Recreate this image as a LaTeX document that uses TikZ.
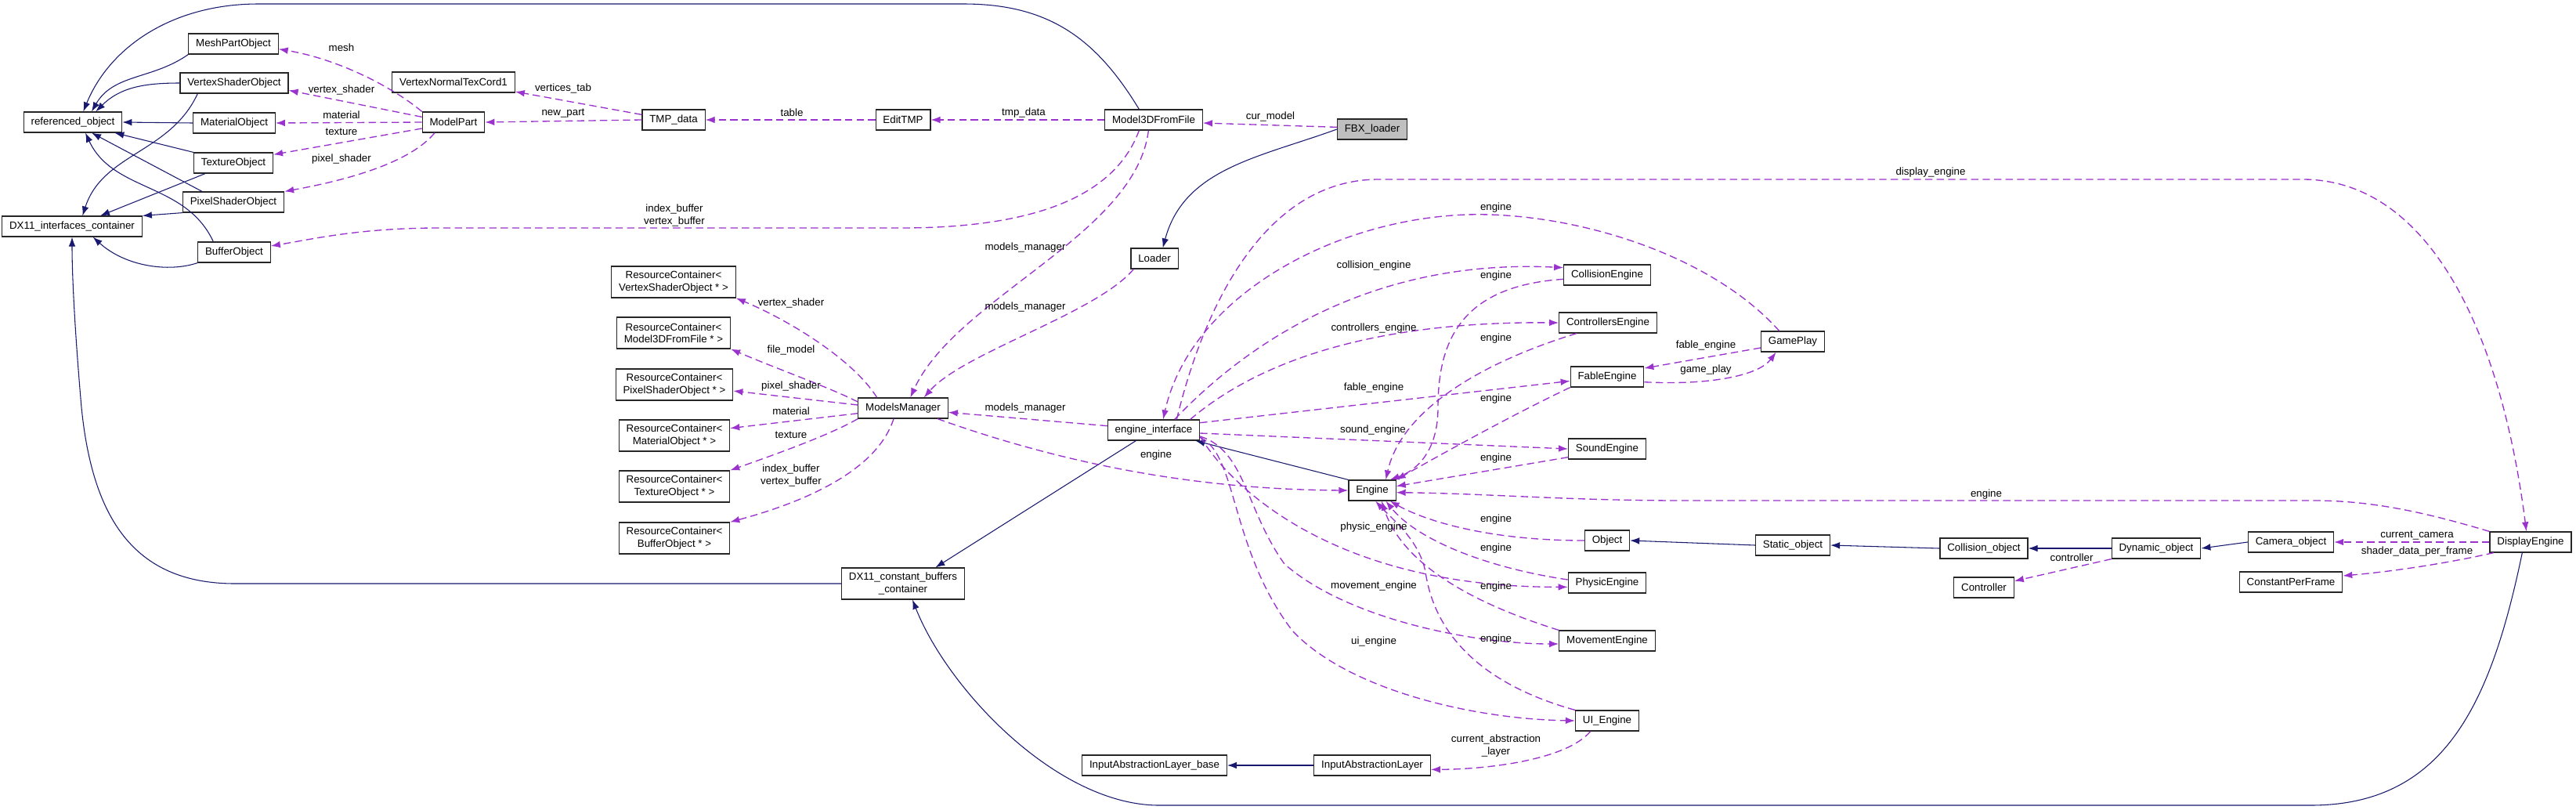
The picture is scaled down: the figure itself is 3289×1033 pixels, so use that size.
\documentclass[tikz,border=0pt]{standalone}
\usepackage{fontspec}
\setmainfont{Liberation Sans}
\usetikzlibrary{arrows.meta}
\definecolor{nuit}{HTML}{191970}
\definecolor{orchidee}{HTML}{9A32CD}

\begin{document}
\begin{tikzpicture}[x=0.75pt,y=-0.75pt,>={Latex[length=9pt,width=6.5pt]},
  classe/.style={draw=black!85,line width=0.9pt,fill=white,inner xsep=7pt,inner ysep=2pt,
    minimum height=19.5pt,align=center,font=\fontsize{10}{11.5}\selectfont},
  deuxlignes/.style={minimum height=30pt},
  herit/.style={->,draw=nuit,line width=0.8pt},
  usage/.style={->,draw=orchidee,line width=1pt,dash pattern=on 7pt off 4pt},
  etiq/.style={inner sep=0pt,align=center,font=\fontsize{10}{12}\selectfont}]

% Cadre
\fill[white] (0,0) rectangle (3289,1033);
\useasboundingbox (0,0) rectangle (3289,1033);

% Classes (colonne 1 et 2)
\node[classe] (ref) at (93,156) {referenced\_object};
\node[classe] (dxi) at (92,289) {DX11\_interfaces\_container};
\node[classe] (mesh) at (298,56) {MeshPartObject};
\node[classe] (vso) at (299,106) {VertexShaderObject};
\node[classe] (mato) at (299,157) {MaterialObject};
\node[classe] (texo) at (298,208) {TextureObject};
\node[classe] (pso) at (298,258) {PixelShaderObject};
\node[classe] (bufo) at (299,322) {BufferObject};

% Classes (colonnes 3 et 4)
\node[classe] (vntc) at (579,105) {VertexNormalTexCord1};
\node[classe] (mpart) at (579,156) {ModelPart};
\node[classe] (tmp) at (860,153) {TMP\_data};
\node[classe,deuxlignes] (rcvs) at (860,360) {ResourceContainer<\\ VertexShaderObject * >};
\node[classe,deuxlignes] (rcm3d) at (860,425) {ResourceContainer<\\ Model3DFromFile * >};
\node[classe,deuxlignes] (rcps) at (861,491) {ResourceContainer<\\ PixelShaderObject * >};
\node[classe,deuxlignes] (rcmat) at (861,556) {ResourceContainer<\\ MaterialObject * >};
\node[classe,deuxlignes] (rctex) at (861,621) {ResourceContainer<\\ TextureObject * >};
\node[classe,deuxlignes] (rcbuf) at (861,687) {ResourceContainer<\\ BufferObject * >};

% Classes (colonnes 5 a 7)
\node[classe] (edit) at (1153,153) {EditTMP};
\node[classe] (mmgr) at (1153,521) {ModelsManager};
\node[classe,deuxlignes] (dxcb) at (1153,745) {DX11\_constant\_buffers\\ \_container};
\node[classe] (m3d) at (1473,153) {Model3DFromFile};
\node[classe] (loader) at (1474,330) {Loader};
\node[classe] (eif) at (1473,549) {engine\_interface};
\node[classe] (ialb) at (1474,977) {InputAbstractionLayer\_base};
\node[classe,fill=black!25] (fbx) at (1752,165) {FBX\_loader};
\node[classe] (engine) at (1752,626) {Engine};
\node[classe] (ial) at (1752,977) {InputAbstractionLayer};

% Moteurs
\node[classe] (colle) at (2052,351) {CollisionEngine};
\node[classe] (ctrle) at (2053,412) {ControllersEngine};
\node[classe] (fable) at (2052,481) {FableEngine};
\node[classe] (sound) at (2052,573) {SoundEngine};
\node[classe] (obj) at (2052,690) {Object};
\node[classe] (phys) at (2052,744) {PhysicEngine};
\node[classe] (move) at (2052,818) {MovementEngine};
\node[classe] (uie) at (2052,920) {UI\_Engine};

% Partie droite
\node[classe] (gplay) at (2289,436) {GamePlay};
\node[classe] (stat) at (2289,696) {Static\_object};
\node[classe] (collo) at (2533,700) {Collision\_object};
\node[classe] (ctrl) at (2533,750) {Controller};
\node[classe] (dyn) at (2753,700) {Dynamic\_object};
\node[classe] (cam) at (2925,692) {Camera\_object};
\node[classe] (cpf) at (2925,743) {ConstantPerFrame};
\node[classe] (disp) at (3231,692) {DisplayEngine};

% Heritage (traits pleins)
\draw[herit] (mesh.south west) to[out=215,in=60] ([xshift=18]ref.north);
\draw[herit] (vso.west) to[out=180,in=45] ([xshift=22]ref.north);
\draw[herit] (mato.west) -- (ref.east);
\draw[herit] (texo.north west) -- ([xshift=40]ref.south);
\draw[herit] ([xshift=-30]pso.north) -- ([xshift=18]ref.south);
\draw[herit] ([xshift=-20]bufo.north) to[out=115,in=-65] ([xshift=12]ref.south);
\draw[herit] ([xshift=-14]m3d.north) .. controls (1400,50) and (1340,5) .. (1230,5) -- (330,5) .. controls (220,5) and (140,60) .. ([xshift=10]ref.north);
\draw[herit] ([xshift=-35]vso.south) to[out=245,in=72] ([xshift=10]dxi.north);
\draw[herit] ([xshift=-27]texo.south) -- ([xshift=27]dxi.north);
\draw[herit] (pso.south west) -- (dxi.north east);
\draw[herit] (bufo.south west) .. controls (215,348) and (160,340) .. ([xshift=20]dxi.south);
\draw[herit] (dxcb.west) -- (300,745) .. controls (170,745) and (118,660) .. (104,520) .. controls (97,440) and (92,360) .. (dxi.south);
\draw[herit] ([xshift=-8]disp.south) .. controls (3180,900) and (3120,1028) .. (2950,1028) -- (1480,1028) .. controls (1350,1028) and (1210,880) .. ([xshift=9]dxcb.south);
\draw[herit] ([xshift=-17]eif.south) -- ([xshift=31]dxcb.north);
\draw[herit] (engine.north west) -- ([xshift=40]eif.south);
\draw[herit] (fbx.west) to[out=200,in=75] ([xshift=8]loader.north);
\draw[herit] (stat.west) -- (obj.east);
\draw[herit] (collo.west) -- (stat.east);
\draw[herit] (dyn.west) -- (collo.east);
\draw[herit] (cam.west) -- (dyn.east);
\draw[herit] (ial.west) -- (ialb.east);

% Membres : ModelPart, TMP_data, Model3DFromFile
\draw[usage] (mpart.north west) .. controls (500,110) and (430,75) .. ([yshift=-5]mesh.east);
\draw[usage] ([yshift=5]mpart.west) -- ([yshift=-7]vso.east);
\draw[usage] (mpart.west) -- (mato.east);
\draw[usage] ([yshift=-6]mpart.west) -- ([yshift=8]texo.east);
\draw[usage] ([xshift=-18]mpart.south) .. controls (530,200) and (470,225) .. (pso.north east);
\draw[usage] ([yshift=5]tmp.west) -- ([yshift=-9]vntc.east);
\draw[usage] (tmp.west) -- (mpart.east);
\draw[usage] (edit.west) -- (tmp.east);
\draw[usage] (m3d.west) -- (edit.east);
\draw[usage] ([yshift=2]fbx.west) -- ([yshift=-3]m3d.east);
\draw[usage] ([xshift=-14]m3d.south) .. controls (1420,260) and (1300,291) .. (1150,291) -- (560,291) .. controls (460,291) and (400,305) .. ([yshift=6]bufo.east);
\draw[usage] ([xshift=-5]m3d.south) .. controls (1450,300) and (1220,380) .. ([xshift=7]mmgr.north);
\draw[usage] ([xshift=-20]loader.south) .. controls (1400,400) and (1230,450) .. ([xshift=20]mmgr.north);

% Membres : ModelsManager
\draw[usage] ([xshift=-25]mmgr.north) .. controls (1090,460) and (1010,410) .. (rcvs.south east);
\draw[usage] ([yshift=6]mmgr.west) .. controls (1060,495) and (990,470) .. (rcm3d.south east);
\draw[usage] ([yshift=3]mmgr.west) -- ([yshift=-6]rcps.east);
\draw[usage] ([yshift=-5]mmgr.west) -- ([yshift=7]rcmat.east);
\draw[usage] (mmgr.south west) .. controls (1060,555) and (990,580) .. (rctex.north east);
\draw[usage] ([xshift=-9]mmgr.south) .. controls (1120,600) and (1030,640) .. (rcbuf.north east);
\draw[usage] ([yshift=4]eif.west) -- ([yshift=-4]mmgr.east);
\draw[usage] ([xshift=33]mmgr.south) .. controls (1380,600) and (1550,625) .. (engine.west);

% Membres : engine_interface
\draw[usage] ([xshift=20]eif.north) .. controls (1600,430) and (1760,330) .. ([yshift=7]colle.west);
\draw[usage] ([xshift=35]eif.north) .. controls (1620,450) and (1780,410) .. (ctrle.west);
\draw[usage] ([yshift=7]eif.east) -- ([yshift=-4]fable.west);
\draw[usage] ([yshift=-3]eif.east) -- (sound.west);
\draw[usage] ([yshift=-6]eif.east) .. controls (1570,620) and (1700,750) .. ([yshift=-4]phys.west);
\draw[usage] ([yshift=-6]eif.east) .. controls (1590,575) and (1590,650) .. (1640,720) .. controls (1720,790) and (1880,822) .. ([yshift=-3]move.west);
\draw[usage] ([yshift=-7]eif.east) .. controls (1580,580) and (1570,700) .. (1650,805) .. controls (1720,880) and (1880,918) .. (uie.west);
\draw[usage] ([xshift=22]eif.north) .. controls (1540,380) and (1620,229) .. (1760,229) -- (2940,229) .. controls (3090,229) and (3190,400) .. ([xshift=-4]disp.north);
\draw[usage] ([xshift=-13]gplay.north) .. controls (2180,320) and (2000,270) .. (1873,274) .. controls (1700,280) and (1520,380) .. ([xshift=9]eif.north);

% Membres : vers Engine
\draw[usage] ([yshift=-4]colle.west) .. controls (1870,365) and (1836,430) .. (1836,520) .. controls (1836,575) and (1810,600) .. ([xshift=-6]engine.north east);
\draw[usage] ([xshift=-30]ctrle.south) .. controls (1900,460) and (1790,520) .. ([xshift=-10]engine.north east);
\draw[usage] (fable.south west) .. controls (1930,530) and (1840,580) .. (engine.north east);
\draw[usage] ([yshift=-8]sound.west) -- ([yshift=4]engine.east);
\draw[usage] (obj.west) .. controls (1900,690) and (1820,665) .. ([xshift=-6]engine.south east);
\draw[usage] ([yshift=3]phys.west) .. controls (1900,725) and (1810,690) .. ([xshift=-10]engine.south east);
\draw[usage] (move.north west) .. controls (1880,770) and (1790,720) .. ([xshift=-14]engine.south east);
\draw[usage] (uie.north west) .. controls (1880,870) and (1830,800) .. (1820,730) .. controls (1812,690) and (1780,665) .. ([xshift=-20]engine.south east);
\draw[usage] (disp.north west) .. controls (3100,655) and (3030,639) .. (2955,639) -- (2150,639) .. controls (2000,639) and (1900,630) .. ([yshift=-2]engine.east);

% Membres : partie droite
\draw[usage] ([yshift=-6]gplay.west) -- ([yshift=-2]fable.north east);
\draw[usage] ([yshift=-5]fable.east) .. controls (2180,492) and (2245,480) .. ([xshift=-16]gplay.south);
\draw[usage] (dyn.south west) -- ([yshift=-4]ctrl.north east);
\draw[usage] (disp.west) -- (cam.east);
\draw[usage] ([xshift=4]disp.south west) .. controls (3120,720) and (3050,730) .. ([yshift=6]cpf.east);
\draw[usage] ([xshift=-16]uie.south) .. controls (2000,970) and (1900,982) .. ([yshift=-4]ial.east);

% Etiquettes
\node[etiq] (emesh) at (436,61) {mesh};
\node[etiq] (evs) at (436,115) {vertex\_shader};
\node[etiq] (emat) at (436,147) {material};
\node[etiq] (etex) at (436,168) {texture};
\node[etiq] (eps) at (436,203) {pixel\_shader};
\node[etiq] (evert) at (719,113) {vertices\_tab};
\node[etiq] (enew) at (719,145) {new\_part};
\node[etiq] (etable) at (1011,144) {table};
\node[etiq] (etmp) at (1307,144) {tmp\_data};
\node[etiq] (ecur) at (1622,149) {cur\_model};
\node[etiq] (ebuf) at (861,275) {index\_buffer\\vertex\_buffer};
\node[etiq] (emm1) at (1309,316) {models\_manager};
\node[etiq] (emm2) at (1309,392) {models\_manager};
\node[etiq] (ercvs) at (1010,387) {vertex\_shader};
\node[etiq] (ercm) at (1010,447) {file\_model};
\node[etiq] (ercps) at (1010,493) {pixel\_shader};
\node[etiq] (ercmat) at (1010,525) {material};
\node[etiq] (erctex) at (1010,555) {texture};
\node[etiq] (ercbuf) at (1010,607) {index\_buffer\\vertex\_buffer};
\node[etiq] (emm3) at (1309,521) {models\_manager};
\node[etiq] (eeng) at (1476,581) {engine};
\node[etiq] (edisp) at (2465,220) {display\_engine};
\node[etiq] (egp) at (1910,265) {engine};
\node[etiq] (ecoll) at (1754,339) {collision\_engine};
\node[etiq] (ectrl) at (1754,419) {controllers\_engine};
\node[etiq] (efab) at (1754,495) {fable\_engine};
\node[etiq] (esnd) at (1753,549) {sound\_engine};
\node[etiq] (ephy) at (1754,673) {physic\_engine};
\node[etiq] (emov) at (1754,748) {movement\_engine};
\node[etiq] (eui) at (1754,819) {ui\_engine};
\node[etiq] (eng1) at (1910,352) {engine};
\node[etiq] (eng2) at (1910,432) {engine};
\node[etiq] (eng3) at (1910,509) {engine};
\node[etiq] (eng4) at (1910,585) {engine};
\node[etiq] (eng5) at (1910,663) {engine};
\node[etiq] (eng6) at (1910,700) {engine};
\node[etiq] (eng7) at (1910,749) {engine};
\node[etiq] (eng8) at (1910,816) {engine};
\node[etiq] (eng9) at (2536,631) {engine};
\node[etiq] (egfab) at (2178,441) {fable\_engine};
\node[etiq] (egplay) at (2178,472) {game\_play};
\node[etiq] (ectrlr) at (2645,712) {controller};
\node[etiq] (ecam) at (3086,684) {current\_camera};
\node[etiq] (eshad) at (3086,704) {shader\_data\_per\_frame};
\node[etiq] (eabs) at (1910,952) {current\_abstraction\\\_layer};

\end{tikzpicture}
\end{document}
